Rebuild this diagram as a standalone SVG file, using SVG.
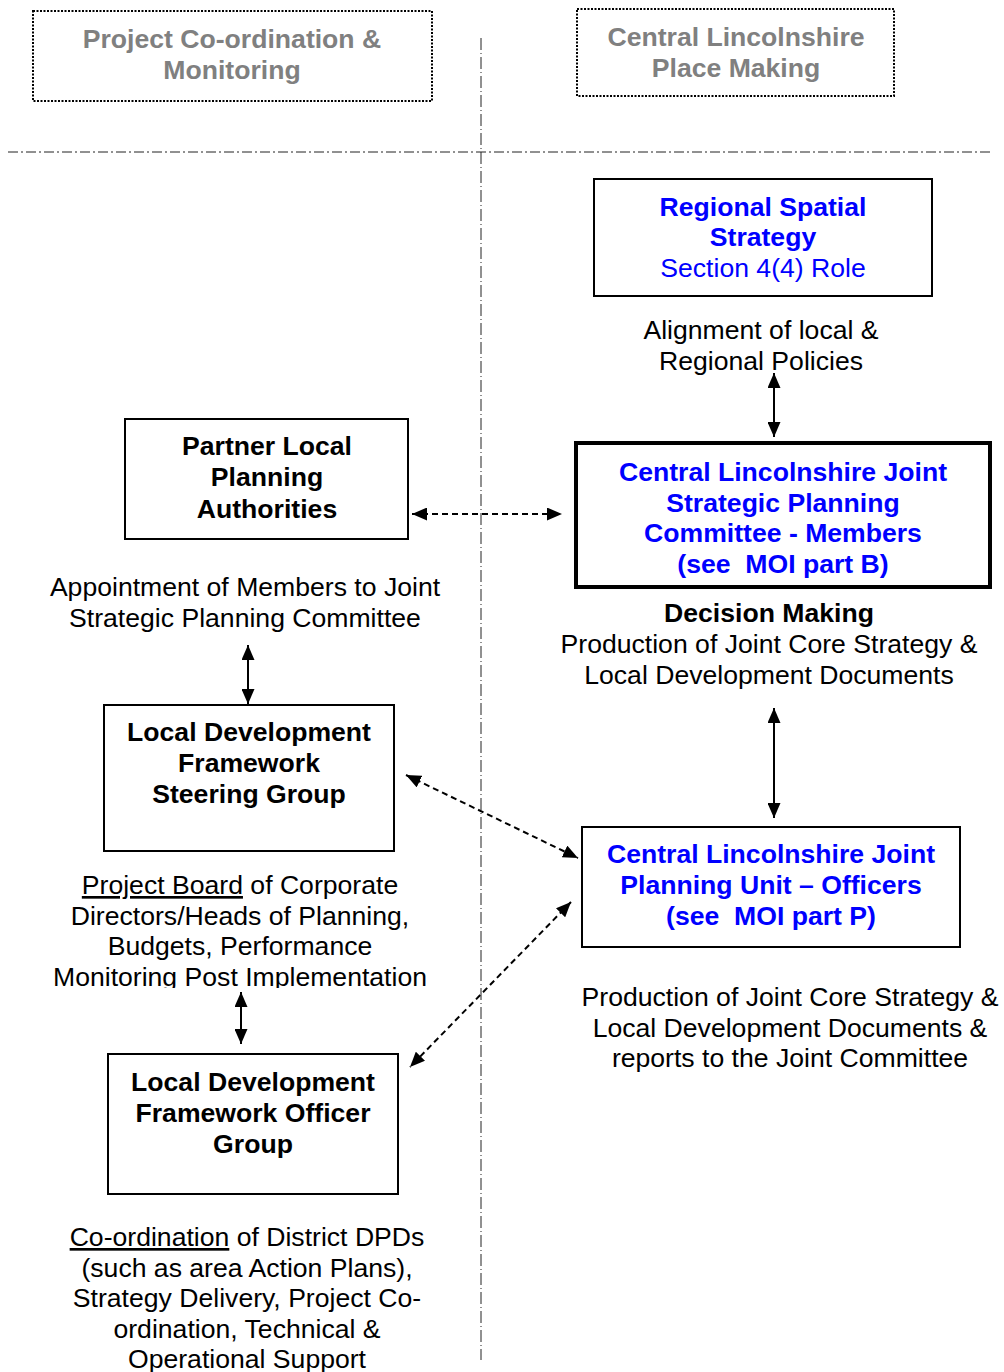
<svg xmlns="http://www.w3.org/2000/svg" width="1004" height="1372" viewBox="0 0 1004 1372">
  <defs>
    <style>
      text { font-family: "Liberation Sans", Arial, sans-serif; font-size: 26.6px; text-anchor: middle; fill: #000; }
      .b { font-weight: bold; }
      .blue { fill: #0000ff; }
      .grey { fill: #808080; font-weight: bold; }
      .box { fill: #fff; stroke: #000; stroke-width: 2; }
      .thick { fill: #fff; stroke: #000; stroke-width: 4; }
      .dotbox { fill: none; stroke: #000; stroke-width: 2; stroke-dasharray: 2 1.5; }
      .divider { stroke: #222; stroke-width: 1; fill: none; }
      .solid { stroke: #000; stroke-width: 2; fill: none; }
      .dash { stroke: #000; stroke-width: 2; fill: none; stroke-dasharray: 6 4; }
    </style>
    <marker id="head" viewBox="0 0 15 13" refX="15" refY="6.5" markerWidth="15" markerHeight="13" markerUnits="userSpaceOnUse" orient="auto-start-reverse">
      <path d="M0,0 L15,6.5 L0,13 Z" fill="#000"/>
    </marker>
    <clipPath id="cutLast">
      <rect x="0" y="860" width="480" height="128"/>
    </clipPath>
  </defs>

  <!-- section dividers -->
  <g id="dividers">
    <line class="divider" x1="8" y1="152" x2="990" y2="152" stroke-dasharray="10 3 2 3"/>
    <line class="divider" x1="481" y1="38" x2="481" y2="1360" stroke-dasharray="12 3 1 3"/>
  </g>

  <!-- column headings -->
  <g id="heading-left">
    <rect class="dotbox" x="33" y="11" width="399" height="90"/>
    <text class="grey" x="232" y="48">Project Co-ordination &amp;</text>
    <text class="grey" x="232" y="79">Monitoring</text>
  </g>
  <g id="heading-right">
    <rect class="dotbox" x="577" y="9" width="317" height="87"/>
    <text class="grey" x="736" y="46">Central Lincolnshire</text>
    <text class="grey" x="736" y="77">Place Making</text>
  </g>

  <!-- connectors -->
  <g id="connectors">
    <line class="solid" x1="774" y1="373" x2="774" y2="437" marker-start="url(#head)" marker-end="url(#head)"/>
    <line class="dash" x1="412" y1="514" x2="562" y2="514" marker-start="url(#head)" marker-end="url(#head)"/>
    <line class="solid" x1="248" y1="645" x2="248" y2="704" marker-start="url(#head)" marker-end="url(#head)"/>
    <line class="solid" x1="774" y1="708" x2="774" y2="818" marker-start="url(#head)" marker-end="url(#head)"/>
    <line class="dash" x1="406" y1="775" x2="578" y2="858" marker-start="url(#head)" marker-end="url(#head)"/>
    <line class="solid" x1="241" y1="992" x2="241" y2="1044" marker-start="url(#head)" marker-end="url(#head)"/>
    <line class="dash" x1="571" y1="902" x2="410" y2="1067" marker-start="url(#head)" marker-end="url(#head)"/>
  </g>

  <!-- nodes -->
  <g id="regional-spatial-strategy">
    <rect class="box" x="594" y="179" width="338" height="117"/>
    <text class="b blue" x="763" y="216">Regional Spatial</text>
    <text class="b blue" x="763" y="246">Strategy</text>
    <text class="blue" x="763" y="277">Section 4(4) Role</text>
  </g>

  <g id="alignment-label">
    <text x="761" y="339">Alignment of local &amp;</text>
    <text x="761" y="370">Regional Policies</text>
  </g>

  <g id="joint-strategic-planning-committee">
    <rect class="thick" x="576" y="443" width="414" height="144"/>
    <text class="b blue" x="783" y="481">Central Lincolnshire Joint</text>
    <text class="b blue" x="783" y="512">Strategic Planning</text>
    <text class="b blue" x="783" y="542">Committee - Members</text>
    <text class="b blue" x="783" y="573" xml:space="preserve">(see  MOI part B)</text>
  </g>

  <g id="partner-authorities">
    <rect class="box" x="125" y="419" width="283" height="120"/>
    <text class="b" x="267" y="455">Partner Local</text>
    <text class="b" x="267" y="486">Planning</text>
    <text class="b" x="267" y="518">Authorities</text>
  </g>

  <g id="appointment-label">
    <text x="245" y="596">Appointment of Members to Joint</text>
    <text x="245" y="627">Strategic Planning Committee</text>
  </g>

  <g id="decision-label">
    <text class="b" x="769" y="622">Decision Making</text>
    <text x="769" y="653">Production of Joint Core Strategy &amp;</text>
    <text x="769" y="684">Local Development Documents</text>
  </g>

  <g id="ldf-steering-group">
    <rect class="box" x="104" y="705" width="290" height="146"/>
    <text class="b" x="249" y="741">Local Development</text>
    <text class="b" x="249" y="772">Framework</text>
    <text class="b" x="249" y="803">Steering Group</text>
  </g>

  <g id="project-board-label" clip-path="url(#cutLast)">
    <text x="240" y="894"><tspan text-decoration="underline">Project Board</tspan> of Corporate</text>
    <text x="240" y="925">Directors/Heads of Planning,</text>
    <text x="240" y="955">Budgets, Performance</text>
    <text x="240" y="986">Monitoring Post Implementation</text>
  </g>

  <g id="joint-planning-unit">
    <rect class="box" x="582" y="827" width="378" height="120"/>
    <text class="b blue" x="771" y="863">Central Lincolnshire Joint</text>
    <text class="b blue" x="771" y="894">Planning Unit – Officers</text>
    <text class="b blue" x="771" y="925" xml:space="preserve">(see  MOI part P)</text>
  </g>

  <g id="production-label">
    <text x="790" y="1006">Production of Joint Core Strategy &amp;</text>
    <text x="790" y="1037">Local Development Documents &amp;</text>
    <text x="790" y="1067">reports to the Joint Committee</text>
  </g>

  <g id="ldf-officer-group">
    <rect class="box" x="108" y="1054" width="290" height="140"/>
    <text class="b" x="253" y="1091">Local Development</text>
    <text class="b" x="253" y="1122">Framework Officer</text>
    <text class="b" x="253" y="1153">Group</text>
  </g>

  <g id="coordination-label">
    <text x="247" y="1246"><tspan text-decoration="underline">Co-ordination</tspan> of District DPDs</text>
    <text x="247" y="1277">(such as area Action Plans),</text>
    <text x="247" y="1307">Strategy Delivery, Project Co-</text>
    <text x="247" y="1338">ordination, Technical &amp;</text>
    <text x="247" y="1368">Operational Support</text>
  </g>
</svg>
